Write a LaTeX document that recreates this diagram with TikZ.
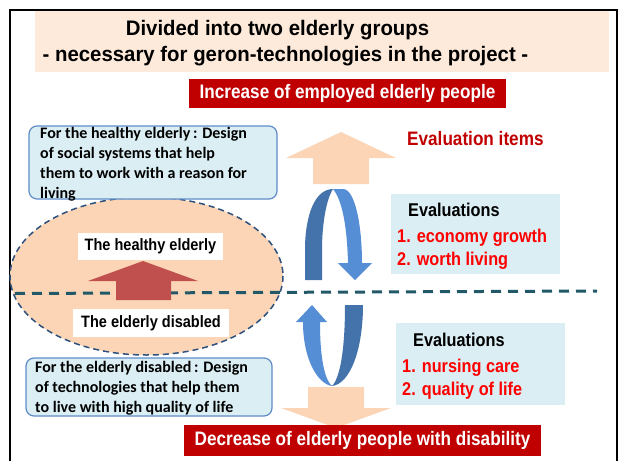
\documentclass[tikz,border=0pt]{standalone}
\usepackage{fontspec}
\setmainfont{Liberation Sans}
\newfontfamily\narrowfont{Liberation Sans}[FakeStretch=0.88]
\newfontfamily\headfont{Liberation Sans}[FakeStretch=0.97]
\newfontfamily\bodyfont{Carlito}
\definecolor{titlepeach}{RGB}{253,234,218}
\definecolor{peach}{RGB}{251,213,181}
\definecolor{boxred}{RGB}{192,0,0}
\definecolor{itemred}{RGB}{255,0,0}
\definecolor{boxblue}{RGB}{218,238,243}
\definecolor{boxline}{RGB}{95,140,200}
\definecolor{loopdark}{RGB}{68,114,170}
\definecolor{looplight}{RGB}{85,142,213}
\definecolor{arrowred}{RGB}{192,80,77}
\definecolor{splitline}{RGB}{33,89,104}
\definecolor{ovalline}{RGB}{45,80,125}
\tikzset{
  narrow/.style={font=\narrowfont\bfseries\fontsize{#1}{#1}\selectfont, inner sep=0},
  headline/.style={font=\headfont\bfseries\fontsize{21}{21}\selectfont, inner sep=0, anchor=base},
  redbox/.style={narrow=19.5, fill=boxred, text=white},
  infobox/.style={draw=boxline, fill=boxblue, rounded corners=8pt, line width=1.2pt, inner sep=0},
  infotext/.style={font=\bodyfont\bfseries\fontsize{16}{20}\selectfont, align=left, inner sep=0, anchor=north west},
  evalbox/.style={fill=boxblue, inner sep=0},
  evaltext/.style={narrow=18.5, anchor=base west},
  grouplabel/.style={narrow=16.5, fill=white}
}
\begin{document}
\begin{tikzpicture}[x=1pt,y=-1pt]
\useasboundingbox (0,0) rectangle (619,461);
\fill[titlepeach] (35,10) rectangle (609,72);
\draw[line width=2pt] (10,461) -- (10,10) -- (617,10) -- (617,461);
\node[headline] (title1) at (277.5,35) {Divided into two elderly groups};
\node[headline] (title2) at (285.5,61.5) {- necessary for geron-technologies in the project -};
\node[redbox, minimum width=317pt, minimum height=29pt] (gain) at (347.5,93.5) {Increase of employed elderly people};
\node[narrow=19.5, text=boxred, anchor=base west] (items) at (407,145) {Evaluation items};
\fill[peach] (313,184) -- (313,158) -- (286,158) -- (341,132) -- (396,158) -- (369,158) -- (369,184) -- cycle;
\draw[ovalline, fill=peach, dash pattern=on 6pt off 4pt, line width=1.5pt] (146.5,276) ellipse [x radius=136.5, y radius=79];
\coordinate (splitW) at (15,293.5);
\coordinate (splitE) at (597,291);
\draw[splitline, line width=3pt, dash pattern=on 10pt off 7pt] (splitW) -- (splitE);
\fill[arrowred] (116,300) -- (116,281) -- (88,281) -- (143,261) -- (198,281) -- (171,281) -- (171,300) -- cycle;
\node[grouplabel, minimum width=145pt, minimum height=27pt] (healthy) at (150.5,246.5) {The healthy elderly};
\node[grouplabel, minimum width=156pt, minimum height=28pt] (disabled) at (151,323) {The elderly disabled};
\node[infobox, minimum width=248pt, minimum height=73pt] (healthybox) at (153,162.5) {};
\node[infotext] (healthydesign) at (40,127.5) {For the healthy elderly\,: Design\\of social systems that help\\them to work with a reason for\\living};
\node[infobox, minimum width=246pt, minimum height=58pt] (disabledbox) at (149,387) {};
\node[infotext] (disableddesign) at (35,361) {For the elderly disabled\,: Design\\of technologies that help them\\to live with high quality of life};
\fill[loopdark] (305,280) -- (305,250) .. controls (305,215) and (315,189) .. (333,189) .. controls (326,200) and (322,225) .. (322,250) -- (322,280) -- cycle;
\fill[looplight] (333,189) -- (343,189) .. controls (355,189) and (362,225) .. (362,263) -- (372,263) -- (355,280) -- (338,263) -- (348,263) .. controls (347,225) and (342,200) .. (333,189) -- cycle;
\fill[looplight] (312,305) -- (327,322) -- (320,322) .. controls (320,360) and (325,380) .. (332,386) .. controls (318,384) and (303,360) .. (303,322) -- (296,322) -- cycle;
\fill[loopdark] (332,386) .. controls (350,384) and (363,350) .. (363,305) -- (345,305) .. controls (345,350) and (340,378) .. (332,386) -- cycle;
\fill[peach] (308,387) -- (364,387) -- (364,408) -- (391,408) -- (336,428) -- (281,408) -- (308,408) -- cycle;
\node[evalbox, minimum width=169pt, minimum height=80pt] (evalup) at (475.5,234) {};
\node[evaltext] (evalupttl) at (408,216.5) {Evaluations};
\node[evaltext, text=itemred] (evalup1) at (397,242.5) {1. economy growth};
\node[evaltext, text=itemred] (evalup2) at (397,265.5) {2. worth living};
\node[evalbox, minimum width=169pt, minimum height=82pt] (evaldown) at (480.5,364) {};
\node[evaltext] (evaldownttl) at (413,346.5) {Evaluations};
\node[evaltext, text=itemred] (evaldown1) at (402,372.5) {1. nursing care};
\node[evaltext, text=itemred] (evaldown2) at (402,395.5) {2. quality of life};
\node[redbox, minimum width=357pt, minimum height=31pt] (loss) at (362.5,440.5) {Decrease of elderly people with disability};
\end{tikzpicture}
\end{document}
